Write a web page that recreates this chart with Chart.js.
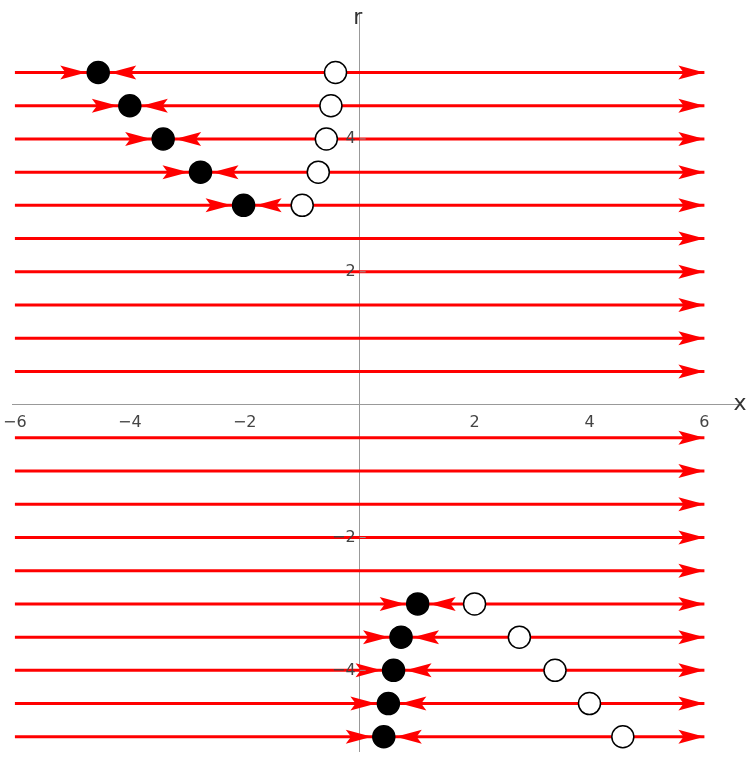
<!DOCTYPE html>
<html><head><meta charset="utf-8">
<script src="https://cdn.jsdelivr.net/npm/chart.js@4/dist/chart.umd.min.js"></script>
<style>html,body{margin:0;padding:0;background:#fff}#w{width:750px;height:764px}</style>
</head><body><div id="w"><canvas id="c"></canvas></div>
<script>
const rLevels = [5,4.5,4,3.5,3,2.5,2,1.5,1,0.5,-0.5,-1,-1.5,-2,-2.5,-3,-3.5,-4,-4.5,-5];
const fixedR = [5,4.5,4,3.5,3,-3,-3.5,-4,-4.5,-5];
const stableX = [-4.55,-4.0,-3.42,-2.77,-2.02,1.01,0.72,0.59,0.50,0.42];
const unstableX = [-0.42,-0.5,-0.58,-0.72,-1.0,2.0,2.78,3.4,4.0,4.58];
const xTicks = [-6,-4,-2,2,4,6];
const rTicks = [-4,-2,2,4];

const lineSets = rLevels.map(r => ({type:'line', data:[{x:-6,y:r},{x:6,y:r}], borderColor:'#ff0000', borderWidth:3, pointRadius:0, order:2}));
const stableSet = {type:'scatter', data:fixedR.map((r,i)=>({x:stableX[i],y:r})), backgroundColor:'#000', borderColor:'#000', borderWidth:1.5, pointRadius:11, order:0};
const unstableSet = {type:'scatter', data:fixedR.map((r,i)=>({x:unstableX[i],y:r})), backgroundColor:'#fff', borderColor:'#000', borderWidth:1.5, pointRadius:11, order:0};

function head(ctx, tx, ty, dir){
  const L=26, H=7;
  ctx.beginPath();
  ctx.moveTo(tx,ty);
  ctx.lineTo(tx-dir*L, ty-H);
  ctx.lineTo(tx-dir*L*0.8, ty);
  ctx.lineTo(tx-dir*L, ty+H);
  ctx.closePath(); ctx.fill();
}
const arrows = {id:'arrows', afterDatasetsDraw(ch){
  const ctx=ch.ctx, xs=ch.scales.x, ys=ch.scales.y;
  ctx.save(); ctx.fillStyle='#ff0000';
  rLevels.forEach(r=>head(ctx, xs.getPixelForValue(6), ys.getPixelForValue(r), 1));
  fixedR.forEach((r,i)=>{
    const px=xs.getPixelForValue(stableX[i]), py=ys.getPixelForValue(r);
    head(ctx, px-12, py, 1);
    head(ctx, px+12, py, -1);
  });
  const x0=xs.getPixelForValue(0);
  ctx.fillStyle='#444'; ctx.font='16px "DejaVu Sans"'; ctx.textAlign='right'; ctx.textBaseline='middle';
  ctx.strokeStyle='#999'; ctx.lineWidth=1;
  rTicks.forEach(v=>{
    const py=ys.getPixelForValue(v);
    ctx.fillText(String(v).replace('-','\u2212'), x0-4, py);
    ctx.beginPath(); ctx.moveTo(x0,py); ctx.lineTo(x0+6,py); ctx.stroke();
  });
  ctx.fillStyle='#333'; ctx.font='22px "DejaVu Sans"'; ctx.textAlign='center';
  ctx.fillText('r', x0-2, 18);
  ctx.fillText('x', 740, ys.getPixelForValue(0));
  ctx.restore();
}};

new Chart(document.getElementById('c'), {
  data:{datasets:[...lineSets, stableSet, unstableSet]},
  plugins:[arrows],
  options:{responsive:true, maintainAspectRatio:false, animation:false,
    layout:{padding:0},
    plugins:{legend:{display:false}, tooltip:{enabled:false}},
    scales:{
      x:{type:'linear', min:-6.042, max:6.576, position:{y:0},
        grid:{display:false, drawTicks:true, tickLength:6}, border:{color:'#999'},
        afterBuildTicks:a=>{a.ticks=xTicks.map(v=>({value:v}));},
        ticks:{color:'#444', font:{size:16, family:'"DejaVu Sans"'}, callback:v=>String(v).replace('-','\u2212'), maxRotation:0, autoSkip:false}},
      y:{type:'linear', min:-5.22, max:5.902, position:{x:0},
        grid:{display:false}, border:{color:'#999'},
        afterBuildTicks:a=>{a.ticks=rTicks.map(v=>({value:v}));},
        ticks:{color:'rgba(0,0,0,0)', font:{size:16, family:'"DejaVu Sans"'}, callback:v=>String(v).replace('-','\u2212'), autoSkip:false}}
    }}
});
</script></body></html>
